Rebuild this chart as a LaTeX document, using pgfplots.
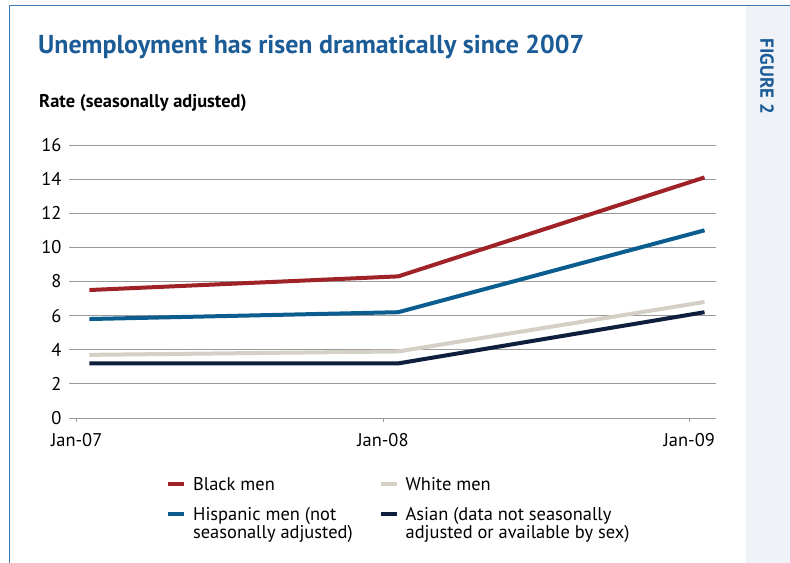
\documentclass[border=0pt]{standalone}
\usepackage{pgfplots}
\pgfplotsset{compat=1.18}
\usepackage{fontspec}
\setmainfont{PT Sans}
\definecolor{frameblue}{HTML}{3A7BB8}
\definecolor{titleblue}{HTML}{1B5C97}
\definecolor{panelbg}{HTML}{EFF3F8}
\definecolor{cBlack}{HTML}{9E2226}
\definecolor{cHisp}{HTML}{0B5C8F}
\definecolor{cWhite}{HTML}{D5D0C6}
\definecolor{cAsian}{HTML}{0E1E3D}
\begin{document}
\begin{tikzpicture}
\path[use as bounding box] (0bp,0bp) rectangle (790bp,563bp);
\fill[panelbg] (746bp,0bp) rectangle (790bp,556.5bp);
\draw[frameblue, line width=1.5bp] (9.5bp,0bp) -- (9.5bp,557.3bp) -- (790bp,557.3bp);
\node[rotate=-90, text=titleblue, font=\fontsize{19}{19}\selectfont\bfseries] at (767bp,486.5bp) {FIGURE 2};
\node[anchor=base west, inner sep=0pt, text=titleblue, font=\fontsize{26}{26}\selectfont\bfseries] at (38bp,509bp) {Unemployment has risen dramatically since 2007};
\node[anchor=base west, inner sep=0pt, font=\fontsize{18.5}{18.5}\selectfont\bfseries] at (39bp,455.7bp) {Rate (seasonally adjusted)};
\begin{axis}[
  at={(69bp,145bp)}, anchor=south west,
  scale only axis, width=647bp, height=273bp,
  xmin=-0.3, xmax=25.05, ymin=0, ymax=16,
  ytick={0,2,...,16}, xtick={0,12,24},
  xticklabels={Jan-07,Jan-08,Jan-09},
  xtick pos=bottom,
  axis line style={draw=none},
  ymajorgrids, grid style={color=black!40, line width=0.8bp},
  ytick style={draw=none},
  xtick style={draw=black!40, line width=0.7bp},
  tick align=outside, major tick length=4bp,
  tick label style={font=\fontsize{18.5}{18.5}\selectfont},
  xticklabel style={yshift=-8bp},
  /pgf/number format/assume math mode=true,
  clip=false,
  legend style={at={(rel axis cs:0.1498,-0.2156)}, anchor=north west, draw=none, fill=none,
    legend columns=2, inner sep=0pt,
    nodes={inner sep=0pt, font=\fontsize{18.5}{18.3}\selectfont},
    cells={anchor=base west},
    row sep=15bp,
    /tikz/every even column/.append style={column sep=26bp}},
  legend image code/.code={\draw[#1, line width=4bp] (0bp,5.8bp) -- (16bp,5.8bp); \path (23bp,0bp);},
  every axis plot/.append style={line width=4bp, line join=round},
]
\addplot[cBlack] coordinates {(0.5,7.5) (12.6,8.3) (24.6,14.1)};
\addlegendentry{\begin{tabular}[t]{@{}l@{}}Black men\end{tabular}}
\addplot[cWhite] coordinates {(0.5,3.7) (12.6,3.9) (24.6,6.8)};
\addlegendentry{\begin{tabular}[t]{@{}l@{}}White men\end{tabular}}
\addplot[cHisp] coordinates {(0.5,5.8) (12.6,6.2) (24.6,11.0)};
\addlegendentry{\begin{tabular}[t]{@{}l@{}}Hispanic men (not\\seasonally adjusted)\end{tabular}}
\addplot[cAsian] coordinates {(0.5,3.2) (12.6,3.2) (24.6,6.2)};
\addlegendentry{\begin{tabular}[t]{@{}l@{}}Asian (data not seasonally\\adjusted or available by sex)\end{tabular}}
\end{axis}
\end{tikzpicture}
\end{document}
